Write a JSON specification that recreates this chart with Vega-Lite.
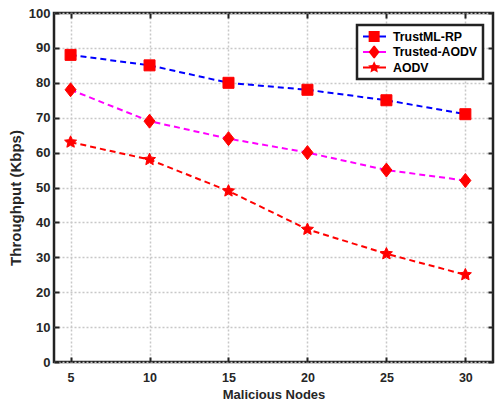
{
  "$schema": "https://vega.github.io/schema/vega-lite/v6.json",
  "width": 439,
  "height": 349,
  "autosize": {"type": "none"},
  "padding": {"left": 54, "top": 13, "right": 2, "bottom": 41},
  "background": "white",
  "config": {
    "font": "Liberation Sans",
    "view": {"stroke": "#222222", "strokeWidth": 2.5},
    "axis": {
      "domain": false,
      "tickSize": -5,
      "tickWidth": 2,
      "tickColor": "#222222",
      "grid": true,
      "gridDash": [2, 2],
      "gridColor": "#c8c8c8",
      "gridWidth": 1.5,
      "labelFont": "Liberation Sans",
      "labelFontWeight": "bold",
      "labelColor": "#262626",
      "labelFlush": false,
      "titleFont": "Liberation Sans",
      "titleFontWeight": "bold",
      "titleColor": "#262626"
    }
  },
  "data": {
    "values": [
      {"series": "TrustML-RP", "nodes": 5, "throughput": 88},
      {"series": "TrustML-RP", "nodes": 10, "throughput": 85},
      {"series": "TrustML-RP", "nodes": 15, "throughput": 80},
      {"series": "TrustML-RP", "nodes": 20, "throughput": 78},
      {"series": "TrustML-RP", "nodes": 25, "throughput": 75},
      {"series": "TrustML-RP", "nodes": 30, "throughput": 71},
      {"series": "Trusted-AODV", "nodes": 5, "throughput": 78},
      {"series": "Trusted-AODV", "nodes": 10, "throughput": 69},
      {"series": "Trusted-AODV", "nodes": 15, "throughput": 64},
      {"series": "Trusted-AODV", "nodes": 20, "throughput": 60},
      {"series": "Trusted-AODV", "nodes": 25, "throughput": 55},
      {"series": "Trusted-AODV", "nodes": 30, "throughput": 52},
      {"series": "AODV", "nodes": 5, "throughput": 63},
      {"series": "AODV", "nodes": 10, "throughput": 58},
      {"series": "AODV", "nodes": 15, "throughput": 49},
      {"series": "AODV", "nodes": 20, "throughput": 38},
      {"series": "AODV", "nodes": 25, "throughput": 31},
      {"series": "AODV", "nodes": 30, "throughput": 25}
    ]
  },
  "resolve": {"axis": {"x": "independent", "y": "independent"}},
  "layer": [
    {
      "mark": {"type": "line", "strokeWidth": 2, "strokeDash": [6, 4]},
      "encoding": {
        "x": {
          "field": "nodes",
          "type": "quantitative",
          "scale": {"domain": [3.95, 31.75], "nice": false, "zero": false},
          "axis": {
            "orient": "bottom",
            "values": [5, 10, 15, 20, 25, 30],
            "title": "Malicious Nodes",
            "labelFontSize": 12.5,
            "labelPadding": 14,
            "titleFontSize": 13,
            "titlePadding": 5
          }
        },
        "y": {
          "field": "throughput",
          "type": "quantitative",
          "scale": {"domain": [0, 100], "nice": false},
          "axis": {
            "orient": "left",
            "values": [0, 10, 20, 30, 40, 50, 60, 70, 80, 90, 100],
            "title": "Throughput (Kbps)",
            "labelFontSize": 13,
            "labelPadding": 9,
            "titleFontSize": 15,
            "titlePadding": 5,
            "titleY": 184.5
          }
        },
        "color": {
          "field": "series",
          "type": "nominal",
          "scale": {
            "domain": ["TrustML-RP", "Trusted-AODV", "AODV"],
            "range": ["#0000ff", "#ff00ff", "#ff0000"]
          },
          "legend": {
            "orient": "none",
            "legendX": 303,
            "legendY": 12,
            "title": null,
            "symbolType": "stroke",
            "symbolSize": 529,
            "symbolStrokeWidth": 2,
            "symbolDash": [100, 0],
            "clipHeight": 13,
            "labelOffset": 6,
            "labelFont": "Liberation Sans",
            "labelFontSize": 12.3,
            "labelFontWeight": "bold",
            "labelColor": "#000000",
            "rowPadding": 2.5,
            "padding": 5,
            "strokeColor": "#222222",
            "fillColor": "white",
            "encode": {"legend": {"update": {"strokeWidth": {"value": 2.5}}}}
          }
        }
      }
    },
    {
      "mark": {"type": "point", "filled": true, "color": "#ff0000", "stroke": "#ff0000", "strokeWidth": 1, "opacity": 1, "size": 121},
      "encoding": {
        "x": {
          "field": "nodes",
          "type": "quantitative",
          "axis": {"orient": "top", "values": [5, 10, 15, 20, 25, 30], "labels": false, "title": null, "grid": false}
        },
        "y": {
          "field": "throughput",
          "type": "quantitative",
          "axis": {"orient": "right", "values": [0, 10, 20, 30, 40, 50, 60, 70, 80, 90, 100], "labels": false, "title": null, "grid": false}
        },
        "shape": {
          "field": "series",
          "type": "nominal",
          "sort": ["TrustML-RP", "Trusted-AODV", "AODV"],
          "scale": {
            "range": ["square", "M0,-1.27L1,0L0,1.27L-1,0Z", "M0,-1.15L0.323,-0.445L1.094,-0.355L0.523,0.17L0.676,0.93L0,0.55L-0.676,0.93L-0.523,0.17L-1.094,-0.355L-0.323,-0.445Z"]
          },
          "legend": {
            "orient": "none",
            "legendX": 303,
            "legendY": 12,
            "title": null,
            "symbolSize": 121,
            "symbolOffset": 6,
            "symbolFillColor": "#ff0000",
            "symbolStrokeColor": "#ff0000",
            "symbolStrokeWidth": 1,
            "clipHeight": 13,
            "labelExpr": "''",
            "labelOffset": 22,
            "labelFont": "Liberation Sans",
            "labelFontSize": 12.3,
            "labelFontWeight": "bold",
            "rowPadding": 2.5,
            "padding": 5
          }
        }
      }
    }
  ]
}
